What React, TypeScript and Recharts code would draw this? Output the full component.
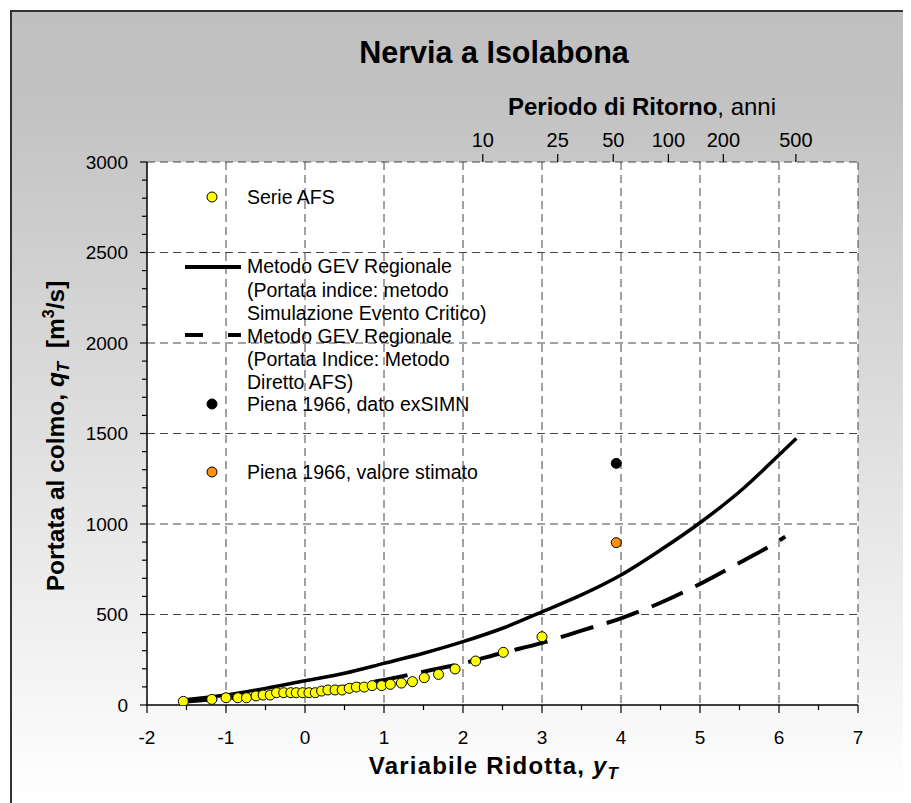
import React from "react";
import { ComposedChart, Line, Scatter, XAxis, YAxis, CartesianGrid } from "recharts";

// Serie AFS: annual maxima plotted on the Gumbel reduced variate
const afsY = [-1.54, -1.18, -1.0, -0.85, -0.74, -0.62, -0.53, -0.44, -0.36, -0.27, -0.18, -0.11, -0.03, 0.05, 0.13, 0.21, 0.29, 0.38, 0.47, 0.56, 0.65, 0.75, 0.85, 0.97, 1.08, 1.22, 1.36, 1.51, 1.69, 1.9, 2.16, 2.51, 3.0];
const afsQ = [20, 31, 40, 40, 40, 50, 55, 55, 68, 68, 68, 68, 68, 68, 68, 77, 83, 83, 83, 92, 99, 99, 107, 107, 114, 121, 129, 151, 169, 199, 243, 291, 377];

// Metodo GEV Regionale (portata indice: simulazione evento critico)
const gevSimY = [-1.54, -1, -0.5, 0, 0.5, 1, 1.5, 2, 2.5, 3, 3.5, 4, 4.5, 5, 5.5, 6, 6.22];
const gevSimQ = [28, 55, 92, 134, 175, 230, 286, 350, 424, 515, 608, 718, 856, 1007, 1178, 1381, 1473];

// Metodo GEV Regionale (portata indice: metodo diretto AFS)
const gevAfsY = [-1.54, -1, -0.5, 0, 0.5, 1, 1.5, 2, 2.5, 3, 3.5, 4, 4.5, 5, 5.5, 6, 6.08];
const gevAfsQ = [18, 37, 55, 74, 101, 138, 184, 230, 288, 343, 411, 479, 565, 669, 786, 908, 930];

// Piena 1966
const piena1966Y = [3.94];
const pienaExSimnQ = [1335];
const pienaStimatoQ = [897];

const returnPeriods = [10, 25, 50, 100, 200, 500];
const yMajor = [500, 1000, 1500, 2000, 2500, 3000];
const xMajor = [-1, 0, 1, 2, 3, 4, 5, 6, 7];

const FONT = "'Liberation Sans', Arial, sans-serif";
const W = 903;
const H = 795;

const rows = (xs: number[], qs: number[]) => xs.map((x, i) => ({ x, q: qs[i] }));
const gumbel = (T: number) => -Math.log(-Math.log(1 - 1 / T));

const yTicks = Array.from({ length: 31 }, (_, i) => i * 100);
const xTicks = Array.from({ length: 19 }, (_, i) => -2 + i * 0.5);
const topTicks = returnPeriods.map(gumbel);

const YTick = ({ x, y, payload }: any) => {
  const v = payload.value;
  const major = v % 500 === 0;
  return (
    <g>
      <line x1={x - (major ? 7 : 5)} x2={x} y1={y} y2={y} stroke="#000" strokeWidth={1.2} />
      {major && (
        <text x={x - 19} y={y} dy="0.36em" textAnchor="end" fontSize={19} fontFamily={FONT} fill="#000">
          {v}
        </text>
      )}
    </g>
  );
};

const XTick = ({ x, y, payload }: any) => {
  const v = payload.value;
  const major = Number.isInteger(v);
  return (
    <g>
      <line x1={x} x2={x} y1={y} y2={y + (major ? 8 : 5)} stroke="#000" strokeWidth={1.2} />
      {major && (
        <text x={x} y={y + 32} dy="0.36em" textAnchor="middle" fontSize={19} fontFamily={FONT} fill="#000">
          {v}
        </text>
      )}
    </g>
  );
};

const TopTick = ({ x, y, index }: any) => (
  <g>
    <line x1={x} x2={x} y1={y} y2={y - 8} stroke="#000" strokeWidth={1.2} />
    <text x={x} y={y - 15} textAnchor="middle" fontSize={20} fontFamily={FONT} fill="#000">
      {returnPeriods[index]}
    </text>
  </g>
);

const dot = (fill: string, stroke: string) => (p: any) =>
  <circle cx={p.cx} cy={p.cy} r={5} fill={fill} stroke={stroke} strokeWidth={1} />;

// legend and titles, page coordinates minus 8px body margin
const Overlay = () => {
  const t = { fontSize: 19.5, fontFamily: FONT, fill: "#000" } as const;
  const lx = 239;
  return (
    <svg width={W} height={H} style={{ position: "absolute", left: 0, top: 0, pointerEvents: "none" }}>
      <text x={486} y={55} textAnchor="middle" fontSize={30.5} fontWeight="bold" fontFamily={FONT}>
        Nervia a Isolabona
      </text>
      <text x={634} y={107} textAnchor="middle" fontSize={24} fontFamily={FONT}>
        <tspan fontWeight="bold">Periodo di Ritorno</tspan>
        <tspan>, anni</tspan>
      </text>
      <text x={486} y={766} textAnchor="middle" fontSize={24} fontWeight="bold" fontFamily={FONT} letterSpacing={1.2}>
        Variabile Ridotta,{" "}
        <tspan fontStyle="italic">y</tspan>
        <tspan fontStyle="italic" fontSize={17} dy={5}>T</tspan>
      </text>
      <text transform="translate(56,428) rotate(-90)" textAnchor="middle" fontSize={24.5} fontWeight="bold" fontFamily={FONT}>
        Portata al colmo,{" "}
        <tspan fontStyle="italic">q</tspan>
        <tspan fontStyle="italic" fontSize={17} dy={5}>T</tspan>
        <tspan dy={-5}>{"\u00a0\u00a0[m"}</tspan>
        <tspan fontSize={16} dy={-10}>3</tspan>
        <tspan dy={10}>/s]</tspan>
      </text>

      <circle cx={204} cy={189} r={5} fill="#ffff00" stroke="#000" strokeWidth={1} />
      <text x={lx} y={189} dy="0.36em" {...t}>Serie AFS</text>

      <line x1={177} x2={233} y1={259} y2={259} stroke="#000" strokeWidth={4} />
      <text x={lx} y={258} dy="0.36em" {...t}>Metodo GEV Regionale</text>
      <text x={lx} y={282} dy="0.36em" {...t}>(Portata indice: metodo</text>
      <text x={lx} y={305} dy="0.36em" {...t}>Simulazione Evento Critico)</text>

      <line x1={177} x2={233} y1={327} y2={327} stroke="#000" strokeWidth={4} strokeDasharray="18 25" />
      <text x={lx} y={328} dy="0.36em" {...t}>Metodo GEV Regionale</text>
      <text x={lx} y={351} dy="0.36em" {...t}>(Portata Indice: Metodo</text>
      <text x={lx} y={374} dy="0.36em" {...t}>Diretto AFS)</text>

      <circle cx={204} cy={396} r={5} fill="#000" stroke="#000" strokeWidth={1} />
      <text x={lx} y={396} dy="0.36em" {...t}>Piena 1966, dato exSIMN</text>

      <circle cx={204} cy={464} r={5} fill="#ff9010" stroke="#000" strokeWidth={1} />
      <text x={lx} y={464} dy="0.36em" {...t}>Piena 1966, valore stimato</text>
    </svg>
  );
};

export default function App() {
  return (
    <div style={{ position: "relative", width: W, height: H, overflow: "hidden", background: "#fff" }}>
      <div
        style={{
          position: "absolute",
          left: 2,
          top: 2,
          width: 1000,
          height: 1000,
          borderLeft: "2px solid #333",
          borderTop: "2px solid #333",
          background: "linear-gradient(to bottom, #c0c0c0 0px, #c2c2c2 90px, #ffffff 790px, #ffffff 1000px)",
        }}
      />
      <div style={{ position: "absolute", left: 0, top: 0 }}>
        <ComposedChart width={W} height={H} margin={{ top: 124, right: 53, bottom: 68, left: 79 }}>
          <CartesianGrid
            xAxisId="bottom"
            yAxisId="q"
            fill="#ffffff"
            stroke="#444"
            strokeDasharray="8 5"
            horizontalValues={yMajor}
            verticalValues={xMajor}
          />
          <XAxis
            xAxisId="bottom"
            dataKey="x"
            type="number"
            domain={[-2, 7]}
            ticks={xTicks}
            interval={0}
            height={30}
            tickSize={0}
            tickMargin={0}
            tick={<XTick />}
            axisLine={{ stroke: "#000", strokeWidth: 1.5 }}
            allowDataOverflow
          />
          <XAxis
            xAxisId="top"
            orientation="top"
            dataKey="x"
            type="number"
            domain={[-2, 7]}
            ticks={topTicks}
            interval={0}
            height={30}
            tickSize={0}
            tickMargin={0}
            tick={<TopTick />}
            axisLine={false}
            allowDataOverflow
          />
          <YAxis
            yAxisId="q"
            dataKey="q"
            type="number"
            domain={[0, 3000]}
            ticks={yTicks}
            interval={0}
            width={60}
            tickSize={0}
            tickMargin={0}
            tick={<YTick />}
            axisLine={{ stroke: "#000", strokeWidth: 1.5 }}
            allowDataOverflow
          />
          <Line
            xAxisId="bottom"
            yAxisId="q"
            data={rows(gevSimY, gevSimQ)}
            dataKey="q"
            type="monotone"
            stroke="#000"
            strokeWidth={3.5}
            dot={false}
            isAnimationActive={false}
          />
          <Line
            xAxisId="bottom"
            yAxisId="q"
            data={rows(gevAfsY, gevAfsQ)}
            dataKey="q"
            type="monotone"
            stroke="#000"
            strokeWidth={4}
            strokeDasharray="34 14"
            dot={false}
            isAnimationActive={false}
          />
          <Scatter
            xAxisId="bottom"
            yAxisId="q"
            data={rows(afsY, afsQ)}
            dataKey="q"
            shape={dot("#ffff00", "#000")}
            isAnimationActive={false}
          />
          <Scatter
            xAxisId="bottom"
            yAxisId="q"
            data={rows(piena1966Y, pienaExSimnQ)}
            dataKey="q"
            shape={dot("#000", "#000")}
            isAnimationActive={false}
          />
          <Scatter
            xAxisId="bottom"
            yAxisId="q"
            data={rows(piena1966Y, pienaStimatoQ)}
            dataKey="q"
            shape={dot("#ff9010", "#000")}
            isAnimationActive={false}
          />
        </ComposedChart>
      </div>
      <Overlay />
    </div>
  );
}
